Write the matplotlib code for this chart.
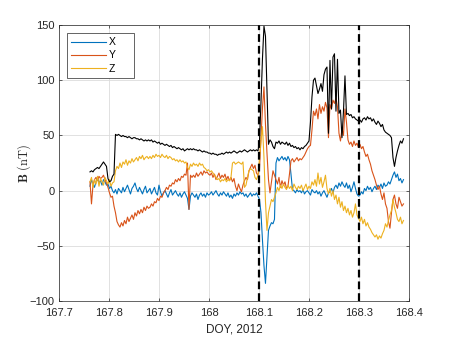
import numpy as np
import matplotlib
matplotlib.use("Agg")
import matplotlib.pyplot as plt

plt.rcParams['font.family'] = ['Liberation Sans', 'DejaVu Sans']
plt.rcParams['mathtext.fontset'] = 'cm'

# temps (DOY 2012), pas de 0.003 jour
t0 = 167.762
dt = 0.003

# |B| (noir)
b_tot = [17, 18, 17, 19, 20, 21, 20, 22, 24, 26,
         24, 22, 11, 8, 9, 13, 15, 51, 50, 51,
         50, 49, 50, 49, 49, 48, 49, 48, 47, 48,
         48, 47, 47, 46, 47, 46, 45, 46, 45, 46,
         45, 46, 44, 45, 44, 43, 44, 42, 43, 42,
         41, 42, 41, 40, 41, 39, 40, 39, 38, 39,
         38, 37, 38, 36, 37, 38, 37, 38, 37, 38,
         37, 37, 36, 37, 36, 35, 36, 35, 35, 34,
         34, 33, 34, 33, 33, 32, 33, 33, 34, 33,
         34, 35, 34, 35, 34, 35, 36, 35, 34, 35,
         36, 35, 36, 37, 36, 35, 36, 37, 36, 37,
         36, 37, 36, 45, 80, 120, 149, 140, 90, 42,
         46, 44, 40, 38, 44, 43, 45, 42, 44, 43,
         42, 44, 41, 43, 40, 41, 39, 40, 38, 39,
         37, 39, 38, 40, 41, 43, 45, 62, 85, 100,
         102, 95, 88, 92, 97, 90, 105, 110, 112, 52,
         118, 74, 121, 124, 72, 119, 70, 73, 48, 72,
         104, 69, 70, 68, 69, 66, 67, 65, 64, 63,
         64, 62, 65, 66, 64, 67, 65, 66, 63, 65,
         62, 60, 63, 61, 58, 60, 55, 53, 52, 51,
         50, 48, 30, 22, 30, 36, 41, 45, 43, 47]

b_x = [4, 10, 6, 3, 8, 12, 7, 9, 5, 10,
       8, 5, 6, 2, 4, 0, -2, 1, -3, 2,
       0, -2, 3, -1, 2, 5, 1, -3, 2, 4,
       7, 2, -1, 3, 0, -3, 1, 4, -2, 0,
       2, -3, 0, 3, -2, -4, 5, -1, -5, -2,
       0, -3, -6, -2, 1, -4, -2, 0, -3, -5,
       -2, -6, -3, -1, -4, -7, -17, -5, -2, -4,
       -6, -3, -8, -4, -2, -5, -3, -6, -2, -4,
       -3, -1, -4, -2, 0, -3, -5, -2, -4, -1,
       -3, -5, -2, -6, -4, -7, -3, -5, -2, -4,
       -1, -3, -2, -5, -3, -6, -4, -2, -5, -3,
       -4, -2, -5, -8, -20, -45, -68, -84, -60, -36,
       -32, -29, -30, -26, 25, 30, 27, 29, 31, 28,
       30, 27, 31, 28, 15, 1, 0, -2, 1, -1,
       0, -2, 1, -3, -1, 0, -2, -4, 1, -1,
       -2, 0, -3, -1, -5, -2, 0, -3, -6, -2,
       -1, 2, -2, 3, 5, 2, 7, 4, 8, 5,
       3, 7, 2, 5, -1, 3, 8, 2, -3, -5,
       -4, -1, -3, 2, 0, 4, 1, 3, -1, 2,
       4, 1, 5, 3, 6, 2, 7, 4, 5, 8,
       6, 10, 14, 17, 12, 15, 9, 11, 7, 10]

b_y = [8, -12, 5, 10, 12, 9, 13, 11, 12, 14,
       10, 7, 3, -2, -6, -5, -14, -20, -28, -31,
       -33, -29, -32, -27, -30, -24, -28, -25, -22, -26,
       -20, -23, -18, -21, -17, -20, -15, -18, -14, -16,
       -15, -12, -14, -10, -11, -7, -9, -5, -6, -2,
       0, 3, 1, 5, 4, 7, 6, 10, 8, 11,
       9, 13, 12, 15, 14, 25, -17, 14, 12, 14,
       12, 16, 13, 15, 17, 14, 18, 16, 17, 15,
       14, 16, 12, 15, 10, 13, 16, 11, 14, 12,
       15, 10, 13, 9, 12, 8, 11, 4, 0, 6,
       2, -1, 5, 9, 12, 10, 18, 21, 24, 20,
       23, 16, 14, 20, 48, 75, 94, 60, 34, 10,
       -2, 8, 18, 14, 10, 6, 12, 3, 9, 5,
       8, 2, 4, 15, 27, 29, 26, 28, 30, 27,
       29, 28, 30, 32, 35, 38, 40, 41, 55, 72,
       68, 74, 65, 78, 70, 76, 72, 80, 75, 48,
       78, 74, 82, 79, 84, 76, 52, 45, 56, 50,
       74, 62, 46, 42, 44, 40, 45, 41, 43, 39,
       42, 38, 40, 35, 31, 33, 28, 24, 18, 14,
       10, 5, 1, 4, -3, -8, -2, -12, -16, -28,
       -34, -20, -8, -4, -12, -16, -6, -10, -14, -12]

b_z = [8, 12, 3, 10, 6, 13, 4, 11, 8, 5,
       12, 9, 6, 10, 4, 7, 8, 18, 22, 20,
       25, 21, 26, 24, 28, 23, 27, 25, 29, 26,
       28, 30, 27, 31, 29, 32, 28, 30, 31, 29,
       31, 29, 32, 30, 33, 31, 32, 30, 33, 31,
       30, 32, 29, 31, 30, 28, 29, 27, 28, 26,
       28, 26, 27, 25, 26, 21, 19, 24, 22, 25,
       23, 24, 22, 25, 23, 24, 21, 20, 18, 19,
       17, 18, 16, 14, 12, 10, 11, 8, 10, 9,
       11, 8, 10, 9, 12, 25, 26, 24, 25, 26,
       25, 24, 26, 3, 5, 12, 18, 20, 19, 18,
       12, 10, 14, 30, 45, 58, 30, -10, -36, -20,
       -14, -8, -10, -6, -2, 3, 0, 5, 2, 6,
       3, 1, 5, 2, 4, 0, 6, 3, 1, 4,
       2, 5, 0, 3, 6, 1, 4, 2, 8, 5,
       10, 4, 16, 6, 12, 3, 8, 14, 2, -3,
       2, -5, 0, -8, -4, -12, -6, -15, -10, -18,
       -14, -20, -16, -22, -18, -24, -20, -12, -22, -25,
       -28, -24, -30, -26, -32, -29, -33, -35, -38, -40,
       -42, -40, -44, -41, -43, -39, -36, -30, -33, -27,
       -22, -18, -8, -15, -20, -26, -28, -24, -30, -27]

event_lines = [168.1, 168.3]
xticks = [167.7, 167.8, 167.9, 168.0, 168.1, 168.2, 168.3, 168.4]
xticklabels = ['167.7', '167.8', '167.9', '168', '168.1', '168.2', '168.3', '168.4']
yticks = [-100, -50, 0, 50, 100, 150]

t = t0 + dt * np.arange(len(b_tot))

fig = plt.figure(figsize=(4.52, 3.39), dpi=100)
ax = fig.add_axes([0.1305, 0.112, 0.7743, 0.814])

lw = 0.8
hx, = ax.plot(t, b_x, color='#0072BD', lw=lw, label='X')
hy, = ax.plot(t, b_y, color='#D95319', lw=lw, label='Y')
hz, = ax.plot(t, b_z, color='#EDB120', lw=lw, label='Z')
ax.plot(t, b_tot, color='k', lw=lw)

for xl in event_lines:
    ax.axvline(xl, color='k', lw=1.6, ls=(0, (3.5, 1.8)))

ax.set_xlim(167.7, 168.4)
ax.set_ylim(-100, 150)
ax.set_xticks(xticks)
ax.set_xticklabels(xticklabels)
ax.set_yticks(yticks)
ax.grid(True, color='#dcdcdc', lw=0.6)
ax.set_axisbelow(True)
ax.tick_params(direction='in', length=2.5, width=0.5, colors='#262626',
               labelsize=8, top=True, right=True)
ax.tick_params(axis='x', pad=5)
ax.tick_params(axis='y', pad=3)
for s in ax.spines.values():
    s.set_color('#262626')
    s.set_linewidth(0.5)

ax.set_xlabel('DOY, 2012', fontsize=8.5, color='#262626')
ax.xaxis.set_label_coords(0.5, -0.08)
ax.set_ylabel(r'$\mathbf{B}\ \mathrm{(nT)}$', fontsize=9, color='#262626')
ax.yaxis.set_label_coords(-0.075, 0.5)

# espaces en fin de label pour élargir le cadre comme dans MATLAB
leg = ax.legend(handles=[hx, hy, hz], labels=['X     ', 'Y     ', 'Z     '],
                loc='upper left', fontsize=7.5,
                handlelength=3.3, handletextpad=0.3, labelspacing=0.3,
                borderpad=0.4, borderaxespad=0, fancybox=False, framealpha=1,
                bbox_to_anchor=(0.023, 0.971))
leg.get_frame().set_edgecolor('#262626')
leg.get_frame().set_linewidth(0.5)

plt.savefig('out.png', dpi=100)
plt.close()
